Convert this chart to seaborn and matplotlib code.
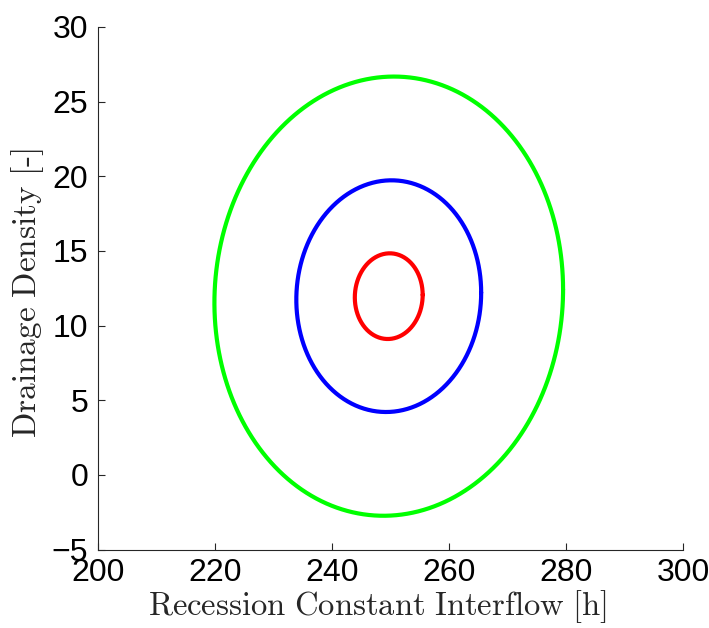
import numpy as np
import pandas as pd
import matplotlib
matplotlib.use("Agg")
import matplotlib.pyplot as plt
import seaborn as sns

# Confidence ellipses of the joint parameter estimate
center_x = 249.7          # recession constant interflow [h]
center_y = 11.97          # drainage density [-]
half_x = [5.8, 15.8, 29.8]     # half extent along x per contour
half_y = [2.87, 7.76, 14.71]   # half extent along y per contour
rho = 0.03                     # weak positive correlation
levels = ["inner", "middle", "outer"]
colors = ["#ff0000", "#0000ff", "#00ff00"]

xticks = [200, 220, 240, 260, 280, 300]
yticks = [-5, 0, 5, 10, 15, 20, 25, 30]

t = np.linspace(0, 2 * np.pi, 400)
frames = []
for lev, ax_, ay_ in zip(levels, half_x, half_y):
    x = center_x + ax_ * np.cos(t)
    y = center_y + ay_ * (rho * np.cos(t) + np.sqrt(1 - rho ** 2) * np.sin(t))
    frames.append(pd.DataFrame({"x": x, "y": y, "level": lev}))
df = pd.concat(frames, ignore_index=True)

sns.set_style("ticks")
plt.rcParams["mathtext.fontset"] = "cm"

fig = plt.figure(figsize=(7.09, 6.28), dpi=100)
ax = fig.add_axes([98 / 709, 1 - 549.5 / 628, (683 - 98) / 709, (549.5 - 27) / 628])

sns.lineplot(data=df, x="x", y="y", hue="level", palette=dict(zip(levels, colors)),
             sort=False, estimator=None, linewidth=3.0, legend=False, ax=ax)

ax.set_xlim(200, 300)
ax.set_ylim(-5, 30)
ax.set_xticks(xticks)
ax.set_yticks(yticks)
ax.set_xticklabels([str(v) for v in xticks])
ax.set_yticklabels([str(v).replace("-", "\u2212") for v in yticks])
for lab in ax.get_xticklabels() + ax.get_yticklabels():
    lab.set_fontfamily("Liberation Sans")
    lab.set_fontsize(23)
ax.tick_params(direction="in", length=5, width=0.8, colors="#262626", labelcolor="black")
ax.tick_params(axis="y", pad=7)
ax.tick_params(axis="x", pad=6)

for side in ["top", "right"]:
    ax.spines[side].set_visible(False)
for side in ["left", "bottom"]:
    ax.spines[side].set_linewidth(0.8)
    ax.spines[side].set_color("#262626")

ax.set_xlabel(r"$\mathrm{Recession\ Constant\ Interflow\ [h]}$", fontsize=23.5, labelpad=0)
ax.xaxis.label.set_x(0.477)
ax.set_ylabel(r"$\mathrm{Drainage\ Density\ [\text{-}]}$", fontsize=24, labelpad=4)
ax.yaxis.label.set_y(0.49)

fig.savefig("out.png", dpi=100)
